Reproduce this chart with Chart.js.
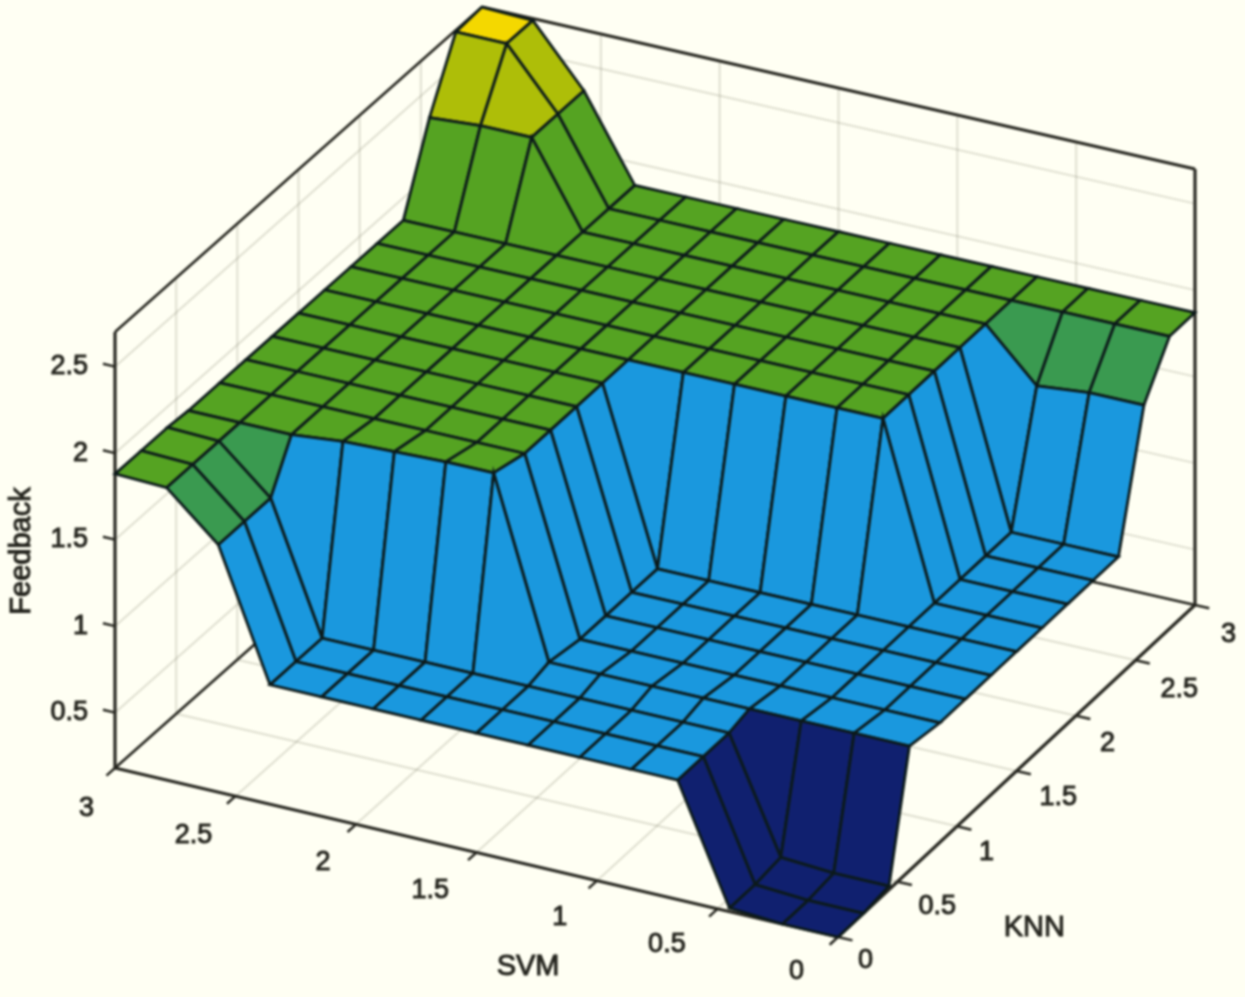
<!DOCTYPE html>
<html>
<head>
<meta charset="utf-8">
<title>Feedback surface</title>
<script src="https://cdn.jsdelivr.net/npm/chart.js@4/dist/chart.umd.min.js"></script>
<style>
html, body { margin: 0; padding: 0; background: #fffff3; }
#wrap { width: 1245px; height: 997px; }
canvas { filter: blur(0.8px); }
</style>
</head>
<body>
<div id="wrap"><canvas id="surface"></canvas></div>
<script>
// grid of the surface, 15 x 15 between 0 and 3
const svmValues = [0, 0.23, 0.45, 0.665, 0.857, 1.071, 1.286, 1.5, 1.73, 1.929, 2.143, 2.357, 2.571, 2.786, 3];
const knnValues = [0, 0.214, 0.429, 0.60, 0.857, 1.071, 1.286, 1.5, 1.714, 1.929, 2.143, 2.357, 2.571, 2.786, 3];

// feedback, one row per knn value, one column per svm value
const feedback = [
    [0.18, 0.18, 0.20, 0.87, 0.87, 0.87, 0.87, 0.87, 0.87, 0.87, 0.87, 0.87, 1.61, 1.87, 1.88],
    [0.18, 0.18, 0.20, 0.87, 0.87, 0.87, 0.87, 0.87, 0.87, 0.87, 0.87, 0.87, 1.61, 1.87, 1.88],
    [0.20, 0.20, 0.22, 0.87, 0.87, 0.87, 0.87, 0.87, 0.87, 0.87, 0.87, 0.87, 1.61, 1.87, 1.88],
    [0.90, 0.90, 0.90, 0.90, 0.90, 0.90, 0.90, 0.90, 1.92, 1.92, 1.91, 1.90, 1.87, 1.87, 1.87],
    [0.87, 0.87, 0.87, 0.87, 0.87, 0.87, 0.87, 0.87, 1.87, 1.87, 1.87, 1.87, 1.87, 1.87, 1.87],
    [0.87, 0.87, 0.87, 0.87, 0.87, 0.87, 0.87, 0.87, 1.87, 1.87, 1.87, 1.87, 1.87, 1.87, 1.87],
    [0.87, 0.87, 0.87, 0.87, 0.87, 0.87, 0.87, 0.87, 1.87, 1.87, 1.87, 1.87, 1.87, 1.87, 1.87],
    [0.87, 0.87, 0.87, 0.87, 0.87, 0.87, 0.87, 0.87, 1.87, 1.87, 1.87, 1.87, 1.87, 1.87, 1.87],
    [0.87, 0.87, 0.87, 1.87, 1.87, 1.87, 1.87, 1.87, 1.87, 1.87, 1.87, 1.87, 1.87, 1.87, 1.87],
    [0.87, 0.87, 0.87, 1.87, 1.87, 1.87, 1.87, 1.87, 1.87, 1.87, 1.87, 1.87, 1.87, 1.87, 1.87],
    [0.87, 0.87, 0.87, 1.87, 1.87, 1.87, 1.87, 1.87, 1.87, 1.87, 1.87, 1.87, 1.87, 1.87, 1.87],
    [0.87, 0.87, 0.87, 1.87, 1.87, 1.87, 1.87, 1.87, 1.87, 1.87, 1.87, 1.87, 1.87, 1.87, 1.87],
    [1.61, 1.61, 1.58, 1.87, 1.87, 1.87, 1.87, 1.87, 1.87, 1.87, 1.87, 1.87, 2.35, 2.35, 2.33],
    [1.87, 1.87, 1.87, 1.87, 1.87, 1.87, 1.87, 1.87, 1.87, 1.87, 1.87, 1.87, 2.35, 2.69, 2.69],
    [1.87, 1.87, 1.87, 1.87, 1.87, 1.87, 1.87, 1.87, 1.87, 1.87, 1.87, 1.87, 2.35, 2.69, 2.70]
];

const svmTicks = [0, 0.5, 1, 1.5, 2, 2.5, 3];
const knnTicks = [0, 0.5, 1, 1.5, 2, 2.5, 3];
const feedbackTicks = [0.5, 1, 1.5, 2, 2.5];
const feedbackFloor = 0.18;
const feedbackTop = 2.7;

// colour of a facet comes from its lowest corner, nearest step of the colormap
const rampValues = [0.18, 0.87, 1.61, 1.87, 2.35, 2.69];
const rampColors = ['#10206f', '#1a98de', '#3a9a50', '#55a322', '#aebe08', '#f4d800'];

const LINE = '#0c1a1a';
const AXIS = '#26261f';
const GRID = 'rgba(120,120,100,0.24)';
const TEXT = '#26261f';
const FONT = '27px "Liberation Sans"';
const TITLE_FONT = '29px "Liberation Sans"';

// orthographic view of the box, with a small correction toward the back corner
function project(s, k, z) {
    return {
        x: 838 - 241 * s + 119 * k + 1.11 * s * k,
        y: 937 - 56.33 * s - 110.67 * k + 0.78 * s * k - 173 * (z - feedbackFloor)
    };
}

function facetColor(z) {
    let best = 0;
    rampValues.forEach((v, i) => {
        if (Math.abs(v - z) < Math.abs(rampValues[best] - z)) best = i;
    });
    return rampColors[best];
}

function facetDatasets() {
    const sets = [];
    // nearest corner first: chart.js paints the first dataset last
    for (let i = 0; i < svmValues.length - 1; i++) {
        for (let j = 0; j < knnValues.length - 1; j++) {
            const corners = [[i, j], [i + 1, j], [i + 1, j + 1], [i, j + 1], [i, j]];
            sets.push({
                data: corners.map(c => project(svmValues[c[0]], knnValues[c[1]], feedback[c[1]][c[0]])),
                fill: 'shape',
                backgroundColor: facetColor(feedback[j][i]),
                borderColor: LINE,
                borderWidth: 2.8,
                pointRadius: 0,
                tension: 0
            });
        }
    }
    return sets;
}

function segment(a, b, color, width) {
    return { data: [a, b], borderColor: color, borderWidth: width, pointRadius: 0, fill: false, tension: 0 };
}

function axisDatasets() {
    const sets = [];
    const lo = feedbackFloor, hi = feedbackTop;
    // outline of the box
    sets.push(segment(project(3, 0, lo), project(0, 0, lo), AXIS, 3.2));
    sets.push(segment(project(0, 0, lo), project(0, 3, lo), AXIS, 3.2));
    sets.push(segment(project(3, 0, lo), project(3, 0, hi), AXIS, 3.2));
    sets.push(segment(project(0, 3, lo), project(0, 3, hi), AXIS, 3.2));
    sets.push(segment(project(3, 0, hi), project(3, 3, hi), AXIS, 2.6));
    sets.push(segment(project(3, 3, hi), project(0, 3, hi), AXIS, 3.2));
    sets.push(segment(project(3, 0, lo), project(3, 3, lo), AXIS, 2.6));
    sets.push(segment(project(3, 3, lo), project(0, 3, lo), AXIS, 2.6));
    // tick marks
    svmTicks.forEach(s => sets.push(segment(project(s, 0, lo), project(s, -0.07, lo), AXIS, 2.5)));
    knnTicks.forEach(k => sets.push(segment(project(0, k, lo), project(-0.06, k, lo), AXIS, 2.5)));
    feedbackTicks.forEach(z => sets.push(segment(project(3, 0, z), project(3.05, 0, z), AXIS, 2.5)));
    // pale grid on the floor and the two back walls
    svmTicks.forEach(s => {
        sets.push(segment(project(s, 0, lo), project(s, 3, lo), GRID, 2));
        sets.push(segment(project(s, 3, lo), project(s, 3, hi), GRID, 2));
    });
    knnTicks.forEach(k => {
        sets.push(segment(project(0, k, lo), project(3, k, lo), GRID, 2));
        sets.push(segment(project(3, k, lo), project(3, k, hi), GRID, 2));
    });
    feedbackTicks.forEach(z => {
        sets.push(segment(project(3, 0, z), project(3, 3, z), GRID, 2));
        sets.push(segment(project(3, 3, z), project(0, 3, z), GRID, 2));
    });
    return sets;
}

const axisText = {
    id: 'axisText',
    afterDatasetsDraw(chart) {
        const { ctx, scales } = chart;
        const put = (label, p, dx, dy, align) => {
            const px = scales.x.getPixelForValue(p.x) + dx;
            const py = scales.y.getPixelForValue(p.y) + dy;
            ctx.textAlign = align;
            ctx.fillText(label, px, py);
            ctx.strokeText(label, px, py);
        };
        ctx.save();
        ctx.font = FONT;
        ctx.fillStyle = TEXT;
        ctx.strokeStyle = TEXT;
        ctx.lineWidth = 1;
        ctx.textBaseline = 'middle';
        svmTicks.forEach(s => put(String(s), project(s, 0, feedbackFloor), -34 + 4.3 * s, 35 + 1.7 * s, 'right'));
        knnTicks.forEach(k => put(String(k), project(0, k, feedbackFloor), 20 + 2 * k, 24 + 2 * k, 'left'));
        feedbackTicks.forEach(z => put(String(z), project(3, 0, z), -27, 0, 'right'));
        ctx.font = TITLE_FONT;
        put('SVM', project(0.9, 0, feedbackFloor), -93, 81, 'center');
        put('KNN', project(0, 0.75, feedbackFloor), 107, 74, 'center');
        ctx.translate(22, 551);
        ctx.rotate(-Math.PI / 2);
        ctx.textAlign = 'center';
        ctx.fillText('Feedback', 0, 0);
        ctx.strokeText('Feedback', 0, 0);
        ctx.restore();
    }
};

document.addEventListener('DOMContentLoaded', () => {
    new Chart(document.getElementById('surface'), {
        type: 'line',
        data: { datasets: facetDatasets().concat(axisDatasets()) },
        options: {
            responsive: true,
            maintainAspectRatio: false,
            animation: false,
            layout: { padding: 0 },
            plugins: { legend: { display: false }, tooltip: { enabled: false }, title: { display: false } },
            scales: {
                x: { type: 'linear', display: false, min: 0, max: 1245 },
                y: { type: 'linear', display: false, min: 0, max: 997, reverse: true }
            }
        },
        plugins: [axisText]
    });
});
</script>
</body>
</html>
